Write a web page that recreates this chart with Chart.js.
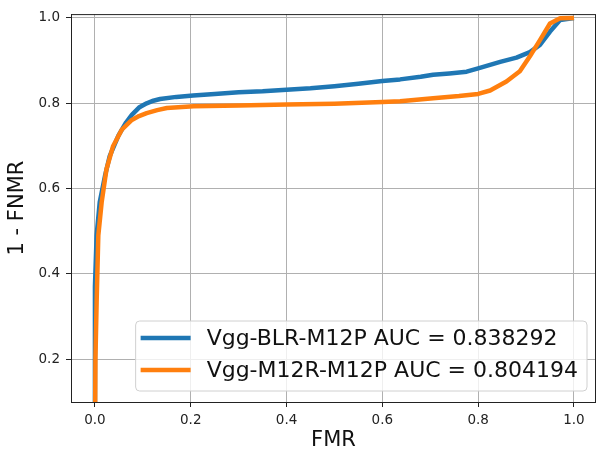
<!DOCTYPE html>
<html>
<head>
<meta charset="utf-8">
<script src="https://cdn.jsdelivr.net/npm/chart.js@4/dist/chart.umd.min.js"></script>
<style>
  body { margin: 0; background: #fff; }
  #wrap { width: 596px; height: 454px; }
</style>
</head>
<body>
<div id="wrap"><canvas id="chart" width="596" height="454"></canvas></div>
<script>
// ROC data
const fmrBlr = [0, 0, 0.0035, 0.01, 0.021, 0.031, 0.049, 0.065, 0.077, 0.092, 0.108, 0.122, 0.136, 0.17, 0.205, 0.25, 0.3, 0.35, 0.4, 0.45, 0.5, 0.55, 0.6, 0.637, 0.68, 0.706, 0.74, 0.776, 0.8, 0.846, 0.88, 0.908, 0.929, 0.95, 0.971, 1.0];
const tprBlr = [0, 0.37, 0.49, 0.568, 0.63, 0.677, 0.724, 0.755, 0.773, 0.79, 0.8, 0.806, 0.81, 0.815, 0.818, 0.822, 0.826, 0.828, 0.832, 0.835, 0.84, 0.846, 0.852, 0.856, 0.862, 0.867, 0.87, 0.874, 0.882, 0.897, 0.907, 0.92, 0.937, 0.968, 0.995, 1.0];

const fmrM12r = [0, 0.001, 0.0035, 0.007, 0.014, 0.024, 0.038, 0.056, 0.077, 0.092, 0.108, 0.13, 0.15, 0.206, 0.3, 0.4, 0.5, 0.6, 0.637, 0.706, 0.76, 0.8, 0.825, 0.859, 0.887, 0.908, 0.929, 0.95, 0.971, 1.0];
const tprM12r = [0, 0.2, 0.334, 0.49, 0.568, 0.645, 0.7, 0.738, 0.761, 0.77, 0.777, 0.784, 0.789, 0.793, 0.795, 0.797, 0.799, 0.803, 0.805, 0.812, 0.817, 0.822, 0.83, 0.851, 0.875, 0.91, 0.948, 0.987, 0.999, 1.0];

const seriesLabels = ['Vgg-BLR-M12P AUC = 0.838292', 'Vgg-M12R-M12P AUC = 0.804194'];
const xTicks = [0, 0.2, 0.4, 0.6, 0.8, 1.0];
const yTicks = [0.2, 0.4, 0.6, 0.8, 1.0];

function toPoints(xs, ys) {
    return xs.map((x, i) => ({ x: x, y: ys[i] }));
}

const fontFamily = '"DejaVu Sans", sans-serif';

// legend box in the lower right corner, drawn like matplotlib's
const legendBox = {
    id: 'legendBox',
    afterDatasetsDraw(chart) {
        const ctx = chart.ctx;
        const area = chart.chartArea;
        const sets = chart.data.datasets;
        ctx.save();
        ctx.font = '22px ' + fontFamily;
        let textW = 0;
        sets.forEach(ds => { textW = Math.max(textW, ctx.measureText(ds.label).width); });
        const right = area.right - 9;
        const bottom = area.bottom - 11;
        const w = 5 + 50 + 16 + textW + 9;
        const h = 70;
        const left = right - w;
        const top = bottom - h;

        ctx.beginPath();
        ctx.roundRect(left, top, w, h, 4);
        ctx.fillStyle = 'rgba(255,255,255,0.8)';
        ctx.fill();
        ctx.strokeStyle = '#d0d0d0';
        ctx.lineWidth = 1;
        ctx.stroke();

        sets.forEach((ds, i) => {
            const y = top + 17 + i * 32;
            ctx.beginPath();
            ctx.moveTo(left + 5, y);
            ctx.lineTo(left + 55, y);
            ctx.strokeStyle = ds.borderColor;
            ctx.lineWidth = 4.5;
            ctx.stroke();
            ctx.fillStyle = '#111';
            ctx.textBaseline = 'middle';
            ctx.textAlign = 'left';
            ctx.fillText(ds.label, left + 71, y + 1);
        });
        ctx.restore();
    }
};

// full frame around the plot (top and right spines too)
const frame = {
    id: 'frame',
    afterDraw(chart) {
        const ctx = chart.ctx;
        const a = chart.chartArea;
        ctx.save();
        ctx.strokeStyle = '#222';
        ctx.lineWidth = 1;
        ctx.strokeRect(a.left + 0.5, a.top + 0.5, a.right - a.left - 1, a.bottom - a.top);
        ctx.restore();
    }
};

const ctx = document.getElementById('chart').getContext('2d');
const chart = new Chart(ctx, {
    type: 'scatter',
    data: {
        datasets: [{
            label: seriesLabels[0],
            data: toPoints(fmrBlr, tprBlr),
            borderColor: '#1f77b4',
            backgroundColor: '#1f77b4',
            order: 1
        },
        {
            label: seriesLabels[1],
            data: toPoints(fmrM12r, tprM12r),
            borderColor: '#ff7f0e',
            backgroundColor: '#ff7f0e',
            order: 0
        }]
    },
    options: {
        responsive: false,
        animation: false,
        layout: { padding: { top: 10, right: 0, left: 0, bottom: 0 } },
        elements: {
            point: { radius: 0 },
            line: { borderWidth: 4.5, tension: 0, borderJoinStyle: 'round' }
        },
        datasets: { scatter: { showLine: true } },
        plugins: {
            legend: { display: false },
            tooltip: { enabled: false }
        },
        scales: {
            x: {
                type: 'linear',
                min: -0.05,
                max: 1.046,
                afterBuildTicks: function (scale) {
                    scale.ticks = xTicks.map(v => ({ value: v }));
                },
                afterFit: function (scale) { scale.height = 52; },
                ticks: {
                    maxRotation: 0,
                    padding: 5,
                    color: '#222',
                    font: { family: fontFamily, size: 13.5 },
                    callback: v => v.toFixed(1)
                },
                grid: { color: '#b0b0b0', lineWidth: 1, tickLength: 5, tickColor: '#222' },
                border: { color: '#222', width: 1 },
                title: {
                    display: true,
                    text: 'FMR',
                    color: '#111',
                    font: { family: fontFamily, size: 21 },
                    padding: { top: 0, bottom: 1 }
                }
            },
            y: {
                type: 'linear',
                min: 0.1,
                max: 1.009,
                afterBuildTicks: function (scale) {
                    scale.ticks = yTicks.map(v => ({ value: v }));
                },
                afterFit: function (scale) { scale.width = 71; },
                ticks: {
                    padding: 6,
                    color: '#222',
                    font: { family: fontFamily, size: 13.5 },
                    callback: v => v.toFixed(1)
                },
                grid: { color: '#b0b0b0', lineWidth: 1, tickLength: 5, tickColor: '#222' },
                border: { color: '#222', width: 1 },
                title: {
                    display: true,
                    text: '1 - FNMR',
                    color: '#111',
                    font: { family: fontFamily, size: 21 },
                    padding: { top: 5, bottom: 0 }
                }
            }
        }
    },
    plugins: [legendBox, frame]
});
</script>
</body>
</html>
